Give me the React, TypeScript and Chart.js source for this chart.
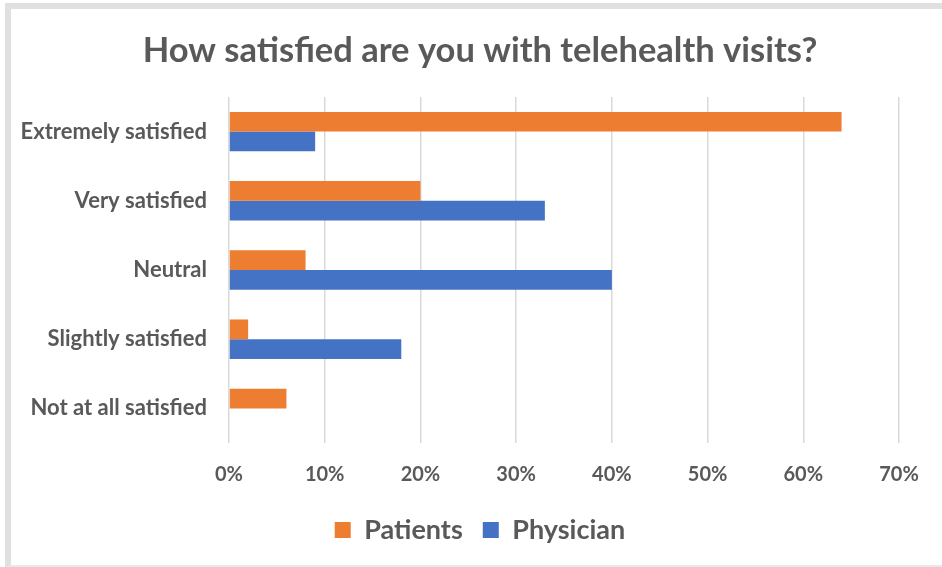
import React, { useEffect, useRef } from "react";
import { Chart, registerables } from "chart.js";

Chart.register(...registerables);

const categories = [
  "Extremely satisfied",
  "Very satisfied",
  "Neutral",
  "Slightly satisfied",
  "Not at all satisfied",
];
const patients = [64, 20, 8, 2, 6];
const physician = [9, 33, 40, 18, 0];
const xTicks = [0, 10, 20, 30, 40, 50, 60, 70];

const FONT = "Lato, 'Open Sans', sans-serif";
const TEXT = "#595959";

export default function App() {
  const ref = useRef<HTMLCanvasElement | null>(null);

  useEffect(() => {
    document.body.style.margin = "0";
    const ctx = ref.current!;
    const chart = new Chart(ctx, {
      type: "bar",
      data: {
        labels: categories,
        datasets: [
          {
            label: "Patients",
            data: patients,
            backgroundColor: "#ED7D31",
            borderWidth: 0,
            categoryPercentage: 0.57,
            barPercentage: 1.0,
            yAxisID: "y",
          },
          {
            label: "Physician",
            data: physician,
            backgroundColor: "#4472C4",
            borderWidth: 0,
            categoryPercentage: 0.57,
            barPercentage: 1.0,
            yAxisID: "y",
          },
        ],
      },
      options: {
        indexAxis: "y",
        animation: false,
        responsive: false,
        maintainAspectRatio: false,
        layout: { padding: { left: 18, right: 0, top: 0, bottom: 13.5 } },
        plugins: {
          title: {
            display: true,
            text: "How satisfied are you with telehealth visits?",
            color: TEXT,
            font: { family: FONT, size: 34.5, weight: "bold" },
            padding: { top: 30.3, bottom: 25.3 },
          },
          legend: {
            display: true,
            position: "bottom",
            labels: {
              color: TEXT,
              font: { family: FONT, size: 27, weight: "bold" },
              boxWidth: 16,
              boxHeight: 16,
              padding: 20,
            },
          },
          tooltip: { enabled: false },
        },
        scales: {
          x: {
            min: 0,
            max: 70,
            afterBuildTicks: (scale: any) => {
              scale.ticks = xTicks.map((v) => ({ value: v }));
            },
            afterFit: (scale: any) => {
              scale.height = 53.5;
            },
            ticks: {
              color: TEXT,
              font: { family: FONT, size: 20, weight: "bold" },
              padding: 20,
              callback: (v: any) => v + "%",
            },
            grid: { color: "#d9d9d9", lineWidth: 1.5, drawTicks: false },
            border: { display: false },
          },
          y: {
            position: "left",
            afterFit: (scale: any) => {
              scale.width = 211;
            },
            ticks: {
              color: TEXT,
              font: { family: FONT, size: 22, weight: "bold" },
              padding: 22,
            },
            grid: { display: false, drawTicks: false },
            border: { display: false },
          },
          y2: {
            type: "category",
            axis: "y",
            position: "right",
            labels: categories,
            afterFit: (scale: any) => {
              scale.width = 43;
            },
            ticks: { display: false },
            grid: { display: false, drawTicks: false },
            border: { display: false },
          },
        },
      },
    });
    return () => chart.destroy();
  }, []);

  return (
    <div
      style={{
        position: "fixed",
        left: 0,
        top: 0,
        width: 942,
        height: 567,
        background: "#fff",
        overflow: "hidden",
      }}
    >
      <canvas ref={ref} width={942} height={567} style={{ display: "block" }} />
      <div
        style={{
          position: "absolute",
          left: 5,
          top: 3,
          width: 960,
          height: 556,
          borderTop: "6px solid #e0e0e0",
          borderLeft: "6px solid #e0e0e0",
          borderBottom: "2px solid #e8e8e8",
          pointerEvents: "none",
        }}
      />
    </div>
  );
}
